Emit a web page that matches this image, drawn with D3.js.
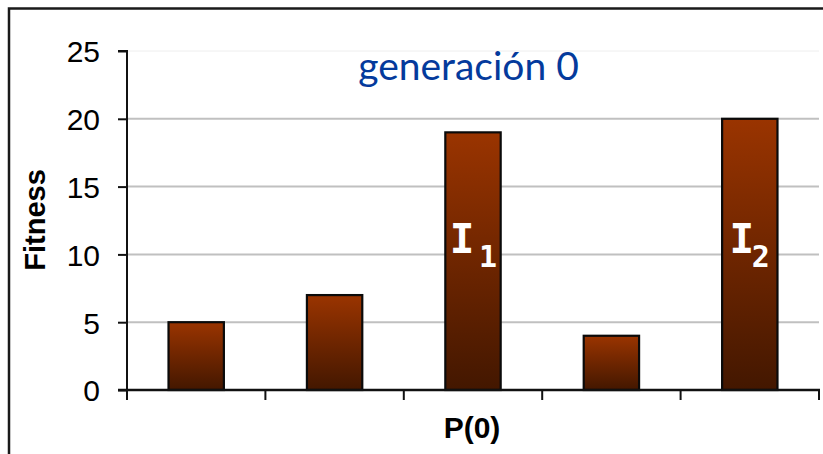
<!DOCTYPE html>
<html>
<head>
<meta charset="utf-8">
<script src="https://cdn.jsdelivr.net/npm/d3@7"></script>
<style>
  html, body { margin: 0; padding: 0; background: #fff; }
  svg { display: block; }
</style>
</head>
<body>
<svg id="chart" width="823" height="454"></svg>
<script>
// Individuals of population P(0) and their fitness
const individuals = ["a", "b", "c", "d", "e"];
const fitness = [5, 7, 19, 4, 20];
// Subscript of the "I" tag drawn inside selected bars ("" = no tag)
const tags = ["", "", "1", "", "2"];
const yTicks = [0, 5, 10, 15, 20, 25];

const title = "generación 0";
const yTitle = "Fitness";
const xTitle = "P(0)";

const svg = d3.select("#chart");
const plotLeft = 127, plotRight = 819, plotTop = 51, plotBottom = 390;

// Outer frame (runs off the right and bottom edges)
svg.append("rect")
  .attr("x", 9).attr("y", 8.5)
  .attr("width", 900).attr("height", 600)
  .attr("fill", "none").attr("stroke", "#1a1a1a").attr("stroke-width", 2.5);

const x = d3.scaleBand().domain(individuals).range([plotLeft, plotRight]).paddingInner(0).paddingOuter(0);
const y = d3.scaleLinear().domain([0, 25]).range([plotBottom, plotTop]);

// Gridlines
svg.append("g").selectAll("line").data(yTicks.filter(d => d > 0)).join("line")
  .attr("x1", plotLeft).attr("x2", plotRight)
  .attr("y1", d => y(d)).attr("y2", d => y(d))
  .attr("stroke", d => d === 25 ? "#eeeeee" : "#c0c0c0")
  .attr("stroke-width", d => d === 25 ? 1 : 2);

// Bar gradient
const defs = svg.append("defs");
const grad = defs.append("linearGradient").attr("id", "barGrad")
  .attr("x1", 0).attr("y1", 0).attr("x2", 0).attr("y2", 1);
grad.append("stop").attr("offset", "0%").attr("stop-color", "#9a3400");
grad.append("stop").attr("offset", "55%").attr("stop-color", "#6a2400");
grad.append("stop").attr("offset", "100%").attr("stop-color", "#431700");

const barW = x.bandwidth() * 0.4;
svg.append("g").selectAll("rect").data(fitness).join("rect")
  .attr("x", (d, i) => x(individuals[i]) + (x.bandwidth() - barW) / 2)
  .attr("y", d => y(d))
  .attr("width", barW)
  .attr("height", d => y(0) - y(d))
  .attr("fill", "url(#barGrad)")
  .attr("stroke", "#0a0a0a").attr("stroke-width", 2.2);

// Y axis
const yAxis = d3.axisLeft(y).tickValues(yTicks).tickSize(9).tickPadding(18);
const gy = svg.append("g").attr("transform", `translate(${plotLeft},0)`).call(yAxis);
gy.select(".domain").attr("stroke", "#111").attr("stroke-width", 2).attr("d", `M-9,${plotTop}H0V${plotBottom}`);
gy.selectAll(".tick line").attr("stroke", "#111").attr("stroke-width", 2);
gy.selectAll(".tick text")
  .attr("font-family", "Liberation Sans, Arial, sans-serif")
  .attr("font-size", 30).attr("fill", "#000").attr("dy", "0.36em");

// X axis: ticks at the category boundaries, no labels
const bounds = individuals.map(d => x(d)).concat([plotRight]);
const gx = svg.append("g");
gx.append("line").attr("x1", plotLeft - 9).attr("x2", plotRight + 1)
  .attr("y1", plotBottom).attr("y2", plotBottom)
  .attr("stroke", "#111").attr("stroke-width", 2.5);
gx.selectAll("line.tk").data(bounds).join("line").attr("class", "tk")
  .attr("x1", d => d).attr("x2", d => d)
  .attr("y1", plotBottom).attr("y2", plotBottom + 10)
  .attr("stroke", "#111").attr("stroke-width", 2);

// "I" tags with subscripts
const tagOffsets = { "1": [-11, 15], "2": [-8, 11] };
const tg = svg.append("g").attr("fill", "#fff")
  .attr("font-family", "DejaVu Sans Mono, monospace").attr("font-weight", "bold");
fitness.forEach((v, i) => {
  if (!tags[i]) return;
  const cx = x(individuals[i]) + x.bandwidth() / 2;
  const off = tagOffsets[tags[i]];
  tg.append("text").attr("x", cx + off[0]).attr("y", 253)
    .attr("text-anchor", "middle").attr("font-size", 41).text("I");
  tg.append("text").attr("x", cx + off[1]).attr("y", 267)
    .attr("text-anchor", "middle").attr("font-size", 30).text(tags[i]);
});

// Titles
svg.append("text").attr("x", 468.5).attr("y", 80)
  .attr("text-anchor", "middle")
  .attr("font-family", "Lato, Open Sans, sans-serif")
  .attr("font-size", 39).attr("fill", "#043a9c").text(title);

svg.append("text")
  .attr("transform", "translate(45,220) rotate(-90)")
  .attr("text-anchor", "middle")
  .attr("font-family", "Liberation Sans, Arial, sans-serif")
  .attr("font-weight", "bold").attr("font-size", 29).text(yTitle);

svg.append("text").attr("x", 472).attr("y", 438)
  .attr("text-anchor", "middle")
  .attr("font-family", "Liberation Sans, Arial, sans-serif")
  .attr("font-weight", "bold").attr("font-size", 30).text(xTitle);
</script>
</body>
</html>
